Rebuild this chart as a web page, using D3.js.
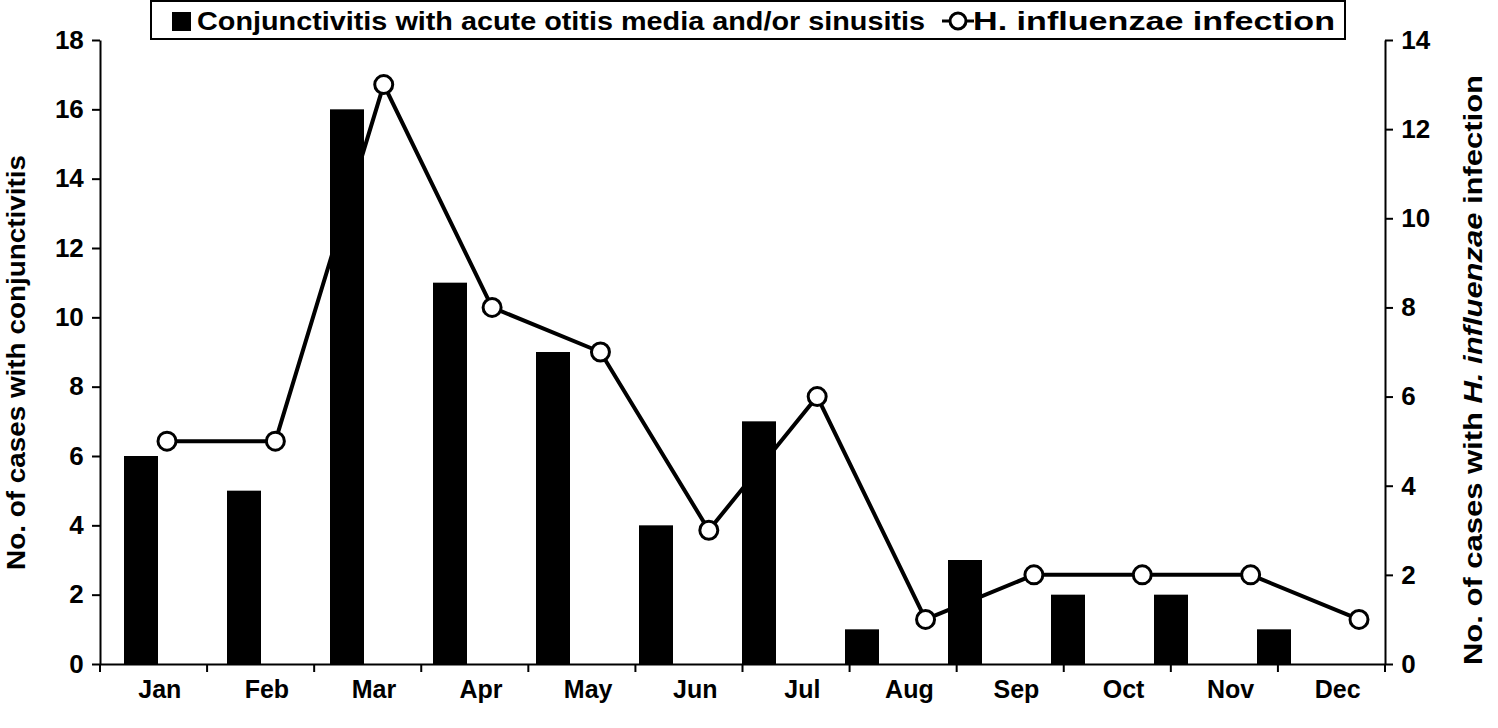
<!DOCTYPE html><html><head><script src="https://cdn.jsdelivr.net/npm/d3@7"></script>
<style>body{margin:0;background:#fff}text{font-family:Arial,"Liberation Sans",sans-serif;font-weight:bold}</style></head><body>
<svg id="c" width="1498" height="728"></svg>
<script>
const months=["Jan","Feb","Mar","Apr","May","Jun","Jul","Aug","Sep","Oct","Nov","Dec"];
const conj=[6,5,16,11,9,4,7,1,3,2,2,1];
const hflu=[5,5,13,8,7,3,6,1,2,2,2,1];
const leftTicks=[0,2,4,6,8,10,12,14,16,18];
const rightTicks=[0,2,4,6,8,10,12,14];
const svg=d3.select("#c");
const L=100,R=1385,T=40,B=664;
const x=d3.scaleBand().domain(months).range([L,R]);
const yL=d3.scaleLinear().domain([0,18]).range([B,T]);
const yR=d3.scaleLinear().domain([0,14]).range([B,T]);
const xBar=d3.scalePoint().domain(months).range([124,1257]);
const xPt=d3.scalePoint().domain(months).range([167,1359]);
svg.selectAll(".bar").data(months).join("rect").attr("x",d=>xBar(d)).attr("width",34)
 .attr("y",(d,i)=>yL(conj[i])).attr("height",(d,i)=>B-yL(conj[i])).attr("fill","#000");
const gx=svg.append("g").attr("transform",`translate(0,${B})`).call(d3.axisBottom(x).tickSize(0).tickSizeOuter(0));
gx.select(".domain").attr("stroke-width",2);
gx.selectAll("text").attr("font-size",25).attr("dy","1.25em").attr("dx","0.25em");
gx.selectAll(".tk").data(d3.range(13)).join("line").attr("x1",i=>L+i*x.bandwidth()).attr("x2",i=>L+i*x.bandwidth()).attr("y1",0).attr("y2",8).attr("stroke","#000").attr("stroke-width",2);
const gl=svg.append("g").attr("transform",`translate(${L},0)`).call(d3.axisLeft(yL).tickValues(leftTicks).tickSize(8).tickSizeOuter(0));
gl.selectAll("path,line").attr("stroke-width",2);gl.selectAll("text").attr("font-size",26).attr("dx","-0.2em");
const gr=svg.append("g").attr("transform",`translate(${R},0)`).call(d3.axisRight(yR).tickValues(rightTicks).tickSize(8).tickSizeOuter(0));
gr.selectAll("path,line").attr("stroke-width",2);gr.selectAll("text").attr("font-size",26).attr("dx","0.2em");
svg.append("path").datum(months).attr("fill","none").attr("stroke","#000").attr("stroke-width",4)
 .attr("d",d3.line().x(d=>xPt(d)).y((d,i)=>yR(hflu[i])));
svg.selectAll(".pt").data(months).join("circle").attr("cx",d=>xPt(d)).attr("cy",(d,i)=>yR(hflu[i])).attr("r",9)
 .attr("fill","#fff").attr("stroke","#000").attr("stroke-width",3);
svg.append("text").attr("transform",`translate(25,${(155+570)/2}) rotate(-90)`).attr("text-anchor","middle").attr("font-size",25)
 .attr("textLength",415).attr("lengthAdjust","spacingAndGlyphs").text("No. of cases with conjunctivitis");
const rt=svg.append("text").attr("transform",`translate(1482,${(75+665)/2}) rotate(-90)`).attr("text-anchor","middle").attr("font-size",25)
 .attr("textLength",590).attr("lengthAdjust","spacingAndGlyphs");
rt.append("tspan").text("No. of cases with ");rt.append("tspan").attr("font-style","italic").text("H. influenzae");rt.append("tspan").text(" infection");
svg.append("rect").attr("x",151).attr("y",1).attr("width",1194).attr("height",38).attr("fill","#fff").attr("stroke","#000").attr("stroke-width",2);
svg.append("rect").attr("x",172).attr("y",12).attr("width",19).attr("height",19).attr("fill","#000");
svg.append("text").attr("x",197).attr("y",30).attr("font-size",26).attr("textLength",728).attr("lengthAdjust","spacingAndGlyphs").text("Conjunctivitis with acute otitis media and/or sinusitis");
svg.append("line").attr("x1",942).attr("x2",974).attr("y1",21).attr("y2",21).attr("stroke","#000").attr("stroke-width",3);
svg.append("circle").attr("cx",958).attr("cy",21).attr("r",8).attr("fill","#fff").attr("stroke","#000").attr("stroke-width",3);
svg.append("text").attr("x",973).attr("y",30).attr("font-size",26).attr("textLength",362).attr("lengthAdjust","spacingAndGlyphs").text("H. influenzae infection");
</script></body></html>
